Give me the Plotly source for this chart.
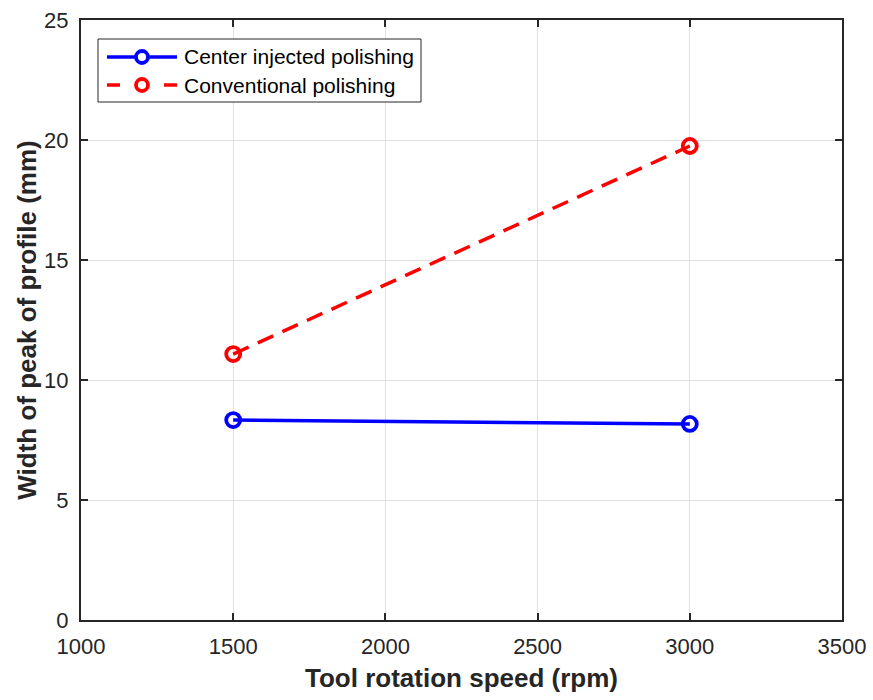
import plotly.graph_objects as go

# Tool rotation speed (rpm)
speed = [1500, 3000]
# Width of peak of profile (mm)
center_injected = [8.33, 8.17]
conventional = [11.08, 19.75]

series_names = ["Center injected polishing", "Conventional polishing"]
x_ticks = [1000, 1500, 2000, 2500, 3000, 3500]
y_ticks = [0, 5, 10, 15, 20, 25]

axis_color = "#262626"
blue = "#0000FF"
red = "#FF0000"
font_family = "Arial, Liberation Sans, sans-serif"

fig = go.Figure()

fig.add_trace(go.Scatter(
    x=speed, y=center_injected, mode="lines+markers",
    name=series_names[0],
    line=dict(color=blue, width=3.5),
    marker=dict(symbol="circle-open", size=14, color=blue,
                line=dict(width=3.8, color=blue)),
))
fig.add_trace(go.Scatter(
    x=speed, y=conventional, mode="lines+markers",
    name=series_names[1],
    line=dict(color=red, width=3.5, dash="17px,10px"),
    marker=dict(symbol="circle-open", size=14, color=red,
                line=dict(width=3.8, color=red)),
))

axis_common = dict(
    showline=True, linecolor=axis_color, linewidth=2, mirror="ticks",
    ticks="inside", ticklen=7, tickwidth=1.5, tickcolor=axis_color,
    showgrid=True, gridcolor="#E0E0E0", gridwidth=1,
    zeroline=False, automargin=False,
    tickfont=dict(family=font_family, size=22, color=axis_color),
)

fig.update_xaxes(
    range=[1000, 3500], tickvals=x_ticks, ticktext=[str(v) for v in x_ticks],
    ticklabelstandoff=6,
    title=dict(text="<b>Tool rotation speed (rpm)</b>", standoff=10,
               font=dict(family=font_family, size=26, color=axis_color)),
    **axis_common,
)
fig.update_yaxes(
    range=[0, 25], tickvals=y_ticks, ticktext=[str(v) for v in y_ticks],
    ticklabelstandoff=6,
    title=dict(text="<b>Width of peak of profile (mm)</b>", standoff=0,
               font=dict(family=font_family, size=26, color=axis_color)),
    **axis_common,
)

# Legend box drawn in plot-area (paper) coordinates
W, H = 761.0, 600.0  # plot area size in pixels


def px(dx):
    return dx / W


def py(dy):
    return dy / H


box_x0, box_x1 = px(17), px(340)
box_y0, box_y1 = 1 - py(82), 1 - py(19)
rows_y = [1 - py(37), 1 - py(65)]
sample_x0, sample_x1 = px(26), px(96)
marker_x = px(61)
text_x = px(101)
r = 6

shapes = [dict(type="rect", xref="paper", yref="paper",
               x0=box_x0, x1=box_x1, y0=box_y0, y1=box_y1,
               line=dict(color=axis_color, width=1), fillcolor="white",
               layer="above")]
# solid sample
shapes.append(dict(type="line", xref="paper", yref="paper",
                   x0=sample_x0, x1=sample_x1, y0=rows_y[0], y1=rows_y[0],
                   line=dict(color=blue, width=3.5), layer="above"))
# dashed sample
shapes.append(dict(type="line", xref="paper", yref="paper",
                   x0=sample_x0, x1=px(39), y0=rows_y[1], y1=rows_y[1],
                   line=dict(color=red, width=3.5), layer="above"))
shapes.append(dict(type="line", xref="paper", yref="paper",
                   x0=px(83), x1=sample_x1, y0=rows_y[1], y1=rows_y[1],
                   line=dict(color=red, width=3.5), layer="above"))
for yy, col in zip(rows_y, [blue, red]):
    shapes.append(dict(type="circle", xref="paper", yref="paper",
                       x0=marker_x - px(r), x1=marker_x + px(r),
                       y0=yy - py(r), y1=yy + py(r),
                       line=dict(color=col, width=3.8), fillcolor="white",
                       layer="above"))

annotations = [dict(x=text_x, y=yy, xref="paper", yref="paper",
                    text=name, showarrow=False, xanchor="left",
                    yanchor="middle",
                    font=dict(family=font_family, size=21, color="black"))
               for yy, name in zip(rows_y, series_names)]

fig.update_layout(
    width=873, height=700,
    margin=dict(l=81, r=31, t=20, b=80),
    paper_bgcolor="white", plot_bgcolor="white",
    showlegend=False,
    shapes=shapes,
    annotations=annotations,
)

fig.write_html("out.html")
